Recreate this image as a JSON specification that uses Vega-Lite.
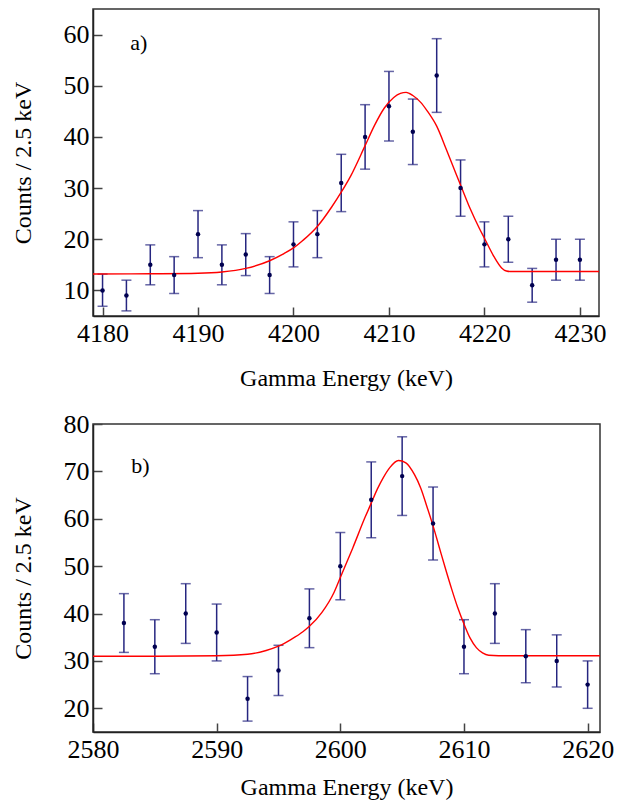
{
  "$schema": "https://vega.github.io/schema/vega-lite/v6.json",
  "padding": {"left": 10, "top": 8, "right": 5, "bottom": 0},
  "background": "white",
  "config": {
    "font": "Liberation Serif",
    "view": {"stroke": "#333", "strokeWidth": 1.5},
    "axis": {
      "grid": false,
      "labelFont": "Liberation Serif",
      "titleFont": "Liberation Serif",
      "labelFontSize": 26,
      "titleFontSize": 24,
      "titleFontWeight": "normal",
      "labelColor": "black",
      "titleColor": "black",
      "domainColor": "#222",
      "domainWidth": 1.5,
      "tickColor": "#444",
      "tickWidth": 1.5,
      "tickSize": -9,
      "labelPadding": 13,
      "labelFlush": false,
      "labelOverlap": false
    }
  },
  "datasets": {
    "pa": [
      {"energy": 4180, "counts": 10, "lo": 6.9, "hi": 13.2},
      {"energy": 4182.5, "counts": 9, "lo": 6.0, "hi": 12.0},
      {"energy": 4185, "counts": 15, "lo": 11.1, "hi": 18.9},
      {"energy": 4187.5, "counts": 13, "lo": 9.4, "hi": 16.6},
      {"energy": 4190, "counts": 21, "lo": 16.4, "hi": 25.6},
      {"energy": 4192.5, "counts": 15, "lo": 11.1, "hi": 18.9},
      {"energy": 4195, "counts": 17, "lo": 12.9, "hi": 21.1},
      {"energy": 4197.5, "counts": 13, "lo": 9.4, "hi": 16.6},
      {"energy": 4200, "counts": 19, "lo": 14.6, "hi": 23.4},
      {"energy": 4202.5, "counts": 21, "lo": 16.4, "hi": 25.6},
      {"energy": 4205, "counts": 31, "lo": 25.4, "hi": 36.6},
      {"energy": 4207.5, "counts": 40, "lo": 33.7, "hi": 46.3},
      {"energy": 4210, "counts": 46, "lo": 39.2, "hi": 52.8},
      {"energy": 4212.5, "counts": 41, "lo": 34.6, "hi": 47.4},
      {"energy": 4215, "counts": 52, "lo": 44.8, "hi": 59.2},
      {"energy": 4217.5, "counts": 30, "lo": 24.5, "hi": 35.5},
      {"energy": 4220, "counts": 19, "lo": 14.6, "hi": 23.4},
      {"energy": 4222.5, "counts": 20, "lo": 15.5, "hi": 24.5},
      {"energy": 4225, "counts": 11, "lo": 7.7, "hi": 14.3},
      {"energy": 4227.5, "counts": 16, "lo": 12.0, "hi": 20.0},
      {"energy": 4230, "counts": 16, "lo": 12.0, "hi": 20.0}
    ],
    "fa": [
      {"energy": 4179, "fit": 13.2},
      {"energy": 4185, "fit": 13.25},
      {"energy": 4190, "fit": 13.35},
      {"energy": 4192.5, "fit": 13.6},
      {"energy": 4195, "fit": 14.3},
      {"energy": 4197.5, "fit": 15.8},
      {"energy": 4199, "fit": 17.2},
      {"energy": 4200, "fit": 18.3},
      {"energy": 4201, "fit": 19.8},
      {"energy": 4202.5, "fit": 22.5},
      {"energy": 4204, "fit": 26.3},
      {"energy": 4205, "fit": 29.2},
      {"energy": 4206, "fit": 32.4},
      {"energy": 4207.5, "fit": 38.3},
      {"energy": 4208.5, "fit": 42.3},
      {"energy": 4209.5, "fit": 45.6},
      {"energy": 4210.5, "fit": 47.7},
      {"energy": 4211.2, "fit": 48.5},
      {"energy": 4211.8, "fit": 48.7},
      {"energy": 4212.5, "fit": 48.1},
      {"energy": 4213.3, "fit": 46.8},
      {"energy": 4214, "fit": 45.1},
      {"energy": 4215, "fit": 42.1},
      {"energy": 4216, "fit": 37.6},
      {"energy": 4217, "fit": 32.9},
      {"energy": 4217.5, "fit": 30.6},
      {"energy": 4218.5, "fit": 26.0},
      {"energy": 4219.5, "fit": 22.0},
      {"energy": 4220, "fit": 20.2},
      {"energy": 4221, "fit": 16.6},
      {"energy": 4221.8, "fit": 14.4},
      {"energy": 4222.3, "fit": 13.8},
      {"energy": 4222.7, "fit": 13.7},
      {"energy": 4232, "fit": 13.7}
    ],
    "pb": [
      {"energy": 2582.5, "counts": 38, "lo": 31.8, "hi": 44.2},
      {"energy": 2585, "counts": 33, "lo": 27.3, "hi": 38.7},
      {"energy": 2587.5, "counts": 40, "lo": 33.7, "hi": 46.3},
      {"energy": 2590, "counts": 36, "lo": 30.0, "hi": 42.0},
      {"energy": 2592.5, "counts": 22, "lo": 17.3, "hi": 26.7},
      {"energy": 2595, "counts": 28, "lo": 22.7, "hi": 33.3},
      {"energy": 2597.5, "counts": 39, "lo": 32.8, "hi": 45.2},
      {"energy": 2600, "counts": 50, "lo": 42.9, "hi": 57.1},
      {"energy": 2602.5, "counts": 64, "lo": 56.0, "hi": 72.0},
      {"energy": 2605, "counts": 69, "lo": 60.7, "hi": 77.3},
      {"energy": 2607.5, "counts": 59, "lo": 51.3, "hi": 66.7},
      {"energy": 2610, "counts": 33, "lo": 27.3, "hi": 38.7},
      {"energy": 2612.5, "counts": 40, "lo": 33.7, "hi": 46.3},
      {"energy": 2615, "counts": 31, "lo": 25.4, "hi": 36.6},
      {"energy": 2617.5, "counts": 30, "lo": 24.5, "hi": 35.5},
      {"energy": 2620, "counts": 25, "lo": 20.0, "hi": 30.0}
    ],
    "fb": [
      {"energy": 2580, "fit": 31.0},
      {"energy": 2585, "fit": 31.0},
      {"energy": 2590, "fit": 31.1},
      {"energy": 2592.5, "fit": 31.4},
      {"energy": 2594, "fit": 32.2},
      {"energy": 2595, "fit": 33.1},
      {"energy": 2596, "fit": 34.5},
      {"energy": 2597, "fit": 36.2},
      {"energy": 2597.5, "fit": 37.3},
      {"energy": 2598.5, "fit": 40.2},
      {"energy": 2599.5, "fit": 44.5},
      {"energy": 2600, "fit": 47.6},
      {"energy": 2601, "fit": 53.8},
      {"energy": 2602, "fit": 60.3},
      {"energy": 2602.5, "fit": 63.3},
      {"energy": 2603, "fit": 66.3},
      {"energy": 2603.5, "fit": 68.8},
      {"energy": 2604, "fit": 70.8},
      {"energy": 2604.7, "fit": 72.3},
      {"energy": 2605.3, "fit": 71.8},
      {"energy": 2606, "fit": 69.3},
      {"energy": 2606.5, "fit": 66.5},
      {"energy": 2607, "fit": 62.6},
      {"energy": 2607.5, "fit": 58.5},
      {"energy": 2608, "fit": 54.0},
      {"energy": 2608.5, "fit": 49.5},
      {"energy": 2609, "fit": 45.2},
      {"energy": 2609.5, "fit": 41.2},
      {"energy": 2610, "fit": 37.8},
      {"energy": 2610.5, "fit": 34.8},
      {"energy": 2611, "fit": 32.8},
      {"energy": 2611.5, "fit": 31.7},
      {"energy": 2612, "fit": 31.2},
      {"energy": 2612.8, "fit": 31.1},
      {"energy": 2621, "fit": 31.1}
    ]
  },
  "vconcat": [
    {
      "width": 506,
      "height": 307,
      "layer": [
        {
          "data": {"name": "pa"},
          "mark": {"type": "rule", "color": "#262680", "strokeWidth": 1.5},
          "encoding": {
            "x": {"field": "energy", "type": "quantitative", "scale": {"domain": [4179, 4232], "nice": false, "zero": false},
                  "axis": {"values": [4180, 4190, 4200, 4210, 4220, 4230], "title": "Gamma Energy (keV)", "format": "d", "titlePadding": 20}},
            "y": {"field": "lo", "type": "quantitative", "scale": {"domain": [5, 65], "nice": false, "zero": false},
                  "axis": {"values": [10, 20, 30, 40, 50, 60], "title": "Counts / 2.5 keV", "titlePadding": 28}},
            "y2": {"field": "hi"}
          }
        },
        {
          "data": {"name": "pa"},
          "mark": {"type": "tick", "orient": "horizontal", "size": 10, "thickness": 1.5, "color": "#262680"},
          "encoding": {"x": {"field": "energy", "type": "quantitative"}, "y": {"field": "lo", "type": "quantitative"}}
        },
        {
          "data": {"name": "pa"},
          "mark": {"type": "tick", "orient": "horizontal", "size": 10, "thickness": 1.5, "color": "#262680"},
          "encoding": {"x": {"field": "energy", "type": "quantitative"}, "y": {"field": "hi", "type": "quantitative"}}
        },
        {
          "data": {"name": "fa"},
          "mark": {"type": "line", "color": "#ff0000", "strokeWidth": 1.4, "interpolate": "monotone"},
          "encoding": {"x": {"field": "energy", "type": "quantitative"}, "y": {"field": "fit", "type": "quantitative"}}
        },
        {
          "data": {"name": "pa"},
          "mark": {"type": "circle", "size": 20, "color": "#000050", "opacity": 1},
          "encoding": {"x": {"field": "energy", "type": "quantitative"}, "y": {"field": "counts", "type": "quantitative"}}
        },
        {
          "data": {"values": [{"label": "a)"}]},
          "mark": {"type": "text", "font": "Liberation Serif", "fontSize": 22, "align": "left", "baseline": "middle", "color": "black"},
          "encoding": {"x": {"datum": 4182.9}, "y": {"datum": 58.3}, "text": {"field": "label"}}
        }
      ]
    },
    {
      "width": 507,
      "height": 308,
      "layer": [
        {
          "data": {"name": "pb"},
          "mark": {"type": "rule", "color": "#262680", "strokeWidth": 1.5},
          "encoding": {
            "x": {"field": "energy", "type": "quantitative", "scale": {"domain": [2580, 2621], "nice": false, "zero": false},
                  "axis": {"values": [2580, 2590, 2600, 2610, 2620], "title": "Gamma Energy (keV)", "format": "d", "titlePadding": 13}},
            "y": {"field": "lo", "type": "quantitative", "scale": {"domain": [15, 80], "nice": false, "zero": false},
                  "axis": {"values": [20, 30, 40, 50, 60, 70, 80], "title": "Counts / 2.5 keV", "titlePadding": 28}},
            "y2": {"field": "hi"}
          }
        },
        {
          "data": {"name": "pb"},
          "mark": {"type": "tick", "orient": "horizontal", "size": 10, "thickness": 1.5, "color": "#262680"},
          "encoding": {"x": {"field": "energy", "type": "quantitative"}, "y": {"field": "lo", "type": "quantitative"}}
        },
        {
          "data": {"name": "pb"},
          "mark": {"type": "tick", "orient": "horizontal", "size": 10, "thickness": 1.5, "color": "#262680"},
          "encoding": {"x": {"field": "energy", "type": "quantitative"}, "y": {"field": "hi", "type": "quantitative"}}
        },
        {
          "data": {"name": "fb"},
          "mark": {"type": "line", "color": "#ff0000", "strokeWidth": 1.4, "interpolate": "monotone"},
          "encoding": {"x": {"field": "energy", "type": "quantitative"}, "y": {"field": "fit", "type": "quantitative"}}
        },
        {
          "data": {"name": "pb"},
          "mark": {"type": "circle", "size": 20, "color": "#000050", "opacity": 1},
          "encoding": {"x": {"field": "energy", "type": "quantitative"}, "y": {"field": "counts", "type": "quantitative"}}
        },
        {
          "data": {"values": [{"label": "b)"}]},
          "mark": {"type": "text", "font": "Liberation Serif", "fontSize": 22, "align": "left", "baseline": "middle", "color": "black"},
          "encoding": {"x": {"datum": 2583.1}, "y": {"datum": 71.2}, "text": {"field": "label"}}
        }
      ]
    }
  ],
  "spacing": 19
}
